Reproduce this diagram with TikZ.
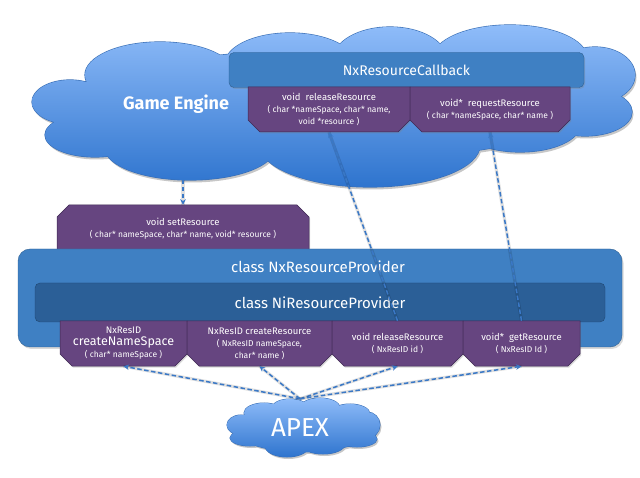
\documentclass[tikz,border=0pt]{standalone}
\usepackage{fontspec}
\setmainfont{Fira Sans}
\usetikzlibrary{shapes.misc,shadows,arrows.meta}
\definecolor{cloudtop}{HTML}{8FBCF9}
\definecolor{cloudbot}{HTML}{2E74CE}
\definecolor{cloudline}{HTML}{3A6FB5}
\definecolor{barblue}{HTML}{3F80C3}
\definecolor{innerblue}{HTML}{2B5F97}
\definecolor{purp}{HTML}{664580}
\definecolor{purpline}{HTML}{3E2852}
\definecolor{dashblue}{HTML}{3A78C6}
\tikzset{
  gecloud/.style={insert path={
    (160,75) ellipse [x radius=75pt, y radius=33pt]
    (70,102) ellipse [x radius=38pt, y radius=22pt]
    (95,135) ellipse [x radius=50pt, y radius=22pt]
    (190,148) ellipse [x radius=85pt, y radius=32pt]
    (370,145) ellipse [x radius=110pt, y radius=42pt]
    (520,125) ellipse [x radius=60pt, y radius=27pt]
    (585,112) ellipse [x radius=47pt, y radius=24pt]
    (595,75) ellipse [x radius=40pt, y radius=28pt]
    (290,64) ellipse [x radius=65pt, y radius=31pt]
    (390,60) ellipse [x radius=57pt, y radius=33pt]
    (510,58) ellipse [x radius=77pt, y radius=33pt]
    (330,105) ellipse [x radius=260pt, y radius=55pt]}},
  apcloud/.style={insert path={
    (303,428) ellipse [x radius=70pt, y radius=24pt]
    (241,425) ellipse [x radius=14pt, y radius=10pt]
    (264,413) ellipse [x radius=20pt, y radius=10pt]
    (290,408) ellipse [x radius=18pt, y radius=9pt]
    (320,408) ellipse [x radius=20pt, y radius=10pt]
    (350,414) ellipse [x radius=20pt, y radius=10pt]
    (367,425) ellipse [x radius=13pt, y radius=13pt]
    (357,439) ellipse [x radius=20pt, y radius=8pt]
    (323,444) ellipse [x radius=22pt, y radius=10pt]
    (287,446) ellipse [x radius=22pt, y radius=11pt]
    (250,438) ellipse [x radius=20pt, y radius=8pt]}},
  barsty/.style={rectangle, rounded corners=5pt, fill=barblue, draw=barblue!75!black, line width=0.4pt, text=white, inner sep=0pt,
    font=\fontsize{14}{16}\selectfont, drop shadow={shadow xshift=1pt, shadow yshift=-1.5pt, opacity=0.3}},
  provsty/.style={rectangle, rounded corners=12pt, fill=barblue, draw=barblue!75!black, line width=0.4pt, inner sep=0pt,
    drop shadow={shadow xshift=1.5pt, shadow yshift=-2pt, opacity=0.3}},
  innersty/.style={rectangle, rounded corners=5pt, fill=innerblue, draw=innerblue!75!black, line width=0.4pt, text=white, inner sep=0pt,
    font=\fontsize{15}{17}\selectfont},
  methsty/.style={chamfered rectangle, chamfered rectangle xsep=6pt, chamfered rectangle ysep=6pt,
    fill=purp, draw=purpline, line width=0.5pt, text=white, inner sep=0pt, align=center,
    drop shadow={shadow xshift=1pt, shadow yshift=-1.5pt, opacity=0.3}},
  botch/.style={chamfered rectangle corners={south west, south east}},
  topch/.style={chamfered rectangle corners={north west, north east}},
  titletxt/.style={text=white, inner sep=0pt, font=\fontsize{15}{17}\selectfont},
  darr/.style={draw=dashblue, line width=1.5pt, dash pattern=on 4.5pt off 2.5pt, -{Stealth[length=5.5pt,width=5.5pt]},
    preaction={-, draw=black, opacity=0.12, line width=3.2pt}},
}
\newcommand\szA{\fontsize{9.5}{12}\selectfont}
\newcommand\szB{\fontsize{8.5}{11.5}\selectfont}
\newcommand\szC{\fontsize{12.5}{13}\selectfont}
\begin{document}
\begin{tikzpicture}[x=1pt,y=-1pt]
\useasboundingbox (0,0) rectangle (640,478);
% game engine cloud
\fill[black, opacity=0.22, shift={(1.5,2.5)}, gecloud];
\draw[cloudline, line width=1.2pt, gecloud];
\shade[top color=cloudtop, bottom color=cloudbot, gecloud];
\node[text=white, font=\fontsize{18}{20}\selectfont\bfseries] (getxt) at (176,104) {Game Engine};
% callback
\node[barsty, minimum width=355pt, minimum height=35pt] (cb) at (406.5,70) {NxResourceCallback};
\node[methsty, botch, minimum width=162pt, minimum height=45pt] (cbrel) at (329,109.5)
  {{\szA void\ \ releaseResource}\\{\szB ( char *nameSpace, char* name,}\\{\szB void *resource )}};
\node[methsty, botch, minimum width=160pt, minimum height=45pt] (cbreq) at (490,109.5)
  {{\szA void*\ \ requestResource}\\{\szB ( char *nameSpace, char* name )}};
% setResource
\node[methsty, topch, minimum width=252pt, minimum height=48pt] (setres) at (183,229)
  {{\szA void setResource}\\{\szB ( char* nameSpace, char* name, void* resource )}};
% provider
\node[provsty, minimum width=604pt, minimum height=98pt] (prov) at (320,298) {};
\node[titletxt] (provtxt) at (318,267) {class NxResourceProvider};
\node[innersty, minimum width=570pt, minimum height=39pt] (ni) at (320,302.5) {class NiResourceProvider};
% methods
\node[methsty, botch, minimum width=127pt, minimum height=45pt] (b1) at (123.5,343.5)
  {{\szA NxResID}\\{\szC createNameSpace}\\{\szB ( char* nameSpace )}};
\node[methsty, botch, minimum width=145pt, minimum height=45pt] (b2) at (259.5,343.5)
  {{\szA NxResID createResource}\\{\szB ( NxResID nameSpace,}\\{\szB char* name )}};
\node[methsty, botch, minimum width=131pt, minimum height=45pt] (b3) at (397.5,343.5)
  {{\szA void releaseResource}\\{\szB ( NxResID id )}};
\node[methsty, botch, minimum width=117pt, minimum height=45pt] (b4) at (521.5,343.5)
  {{\szA void*\ \ getResource}\\{\szB ( NxResID Id )}};
% APEX
\fill[black, opacity=0.22, shift={(1.5,2)}, apcloud];
\draw[cloudline, line width=1pt, apcloud];
\shade[top color=cloudtop, bottom color=cloudbot, apcloud];
\node[text=white, font=\fontsize{26}{28}\selectfont, minimum height=58pt, inner sep=0pt] (apex) at (300,428) {APEX};
% connectors
\coordinate (gebot) at (183,180);
\draw[darr] (gebot) -- (setres.north);
\draw[darr] (b3.north) -- (cbrel.south);
\draw[darr] (b4.north) -- (cbreq.south);
\draw[darr] (apex.north) -- (b1.south);
\draw[darr] (apex.north) -- (b2.south);
\draw[darr] (apex.north) -- (b3.south);
\draw[darr] (apex.north) -- (b4.south);
\end{tikzpicture}
\end{document}
